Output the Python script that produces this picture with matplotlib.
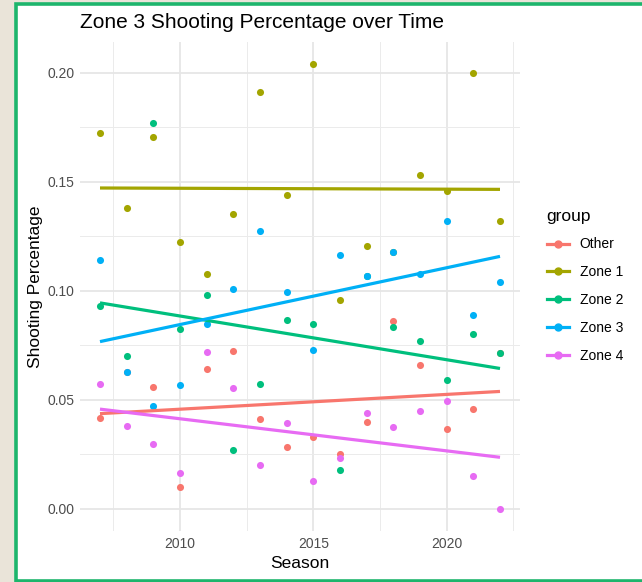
import numpy as np
import matplotlib
matplotlib.use("Agg")
import matplotlib.pyplot as plt
from matplotlib.lines import Line2D
from matplotlib.patches import Rectangle
from matplotlib.ticker import MultipleLocator, FormatStrFormatter

# season data (some points sit under other groups)
seasons = list(range(2007, 2023))
groups = ["Other", "Zone 1", "Zone 2", "Zone 3", "Zone 4"]
other = [0.0416, 0.0628, 0.0560, 0.0100, 0.0641, 0.0722, 0.0413, 0.0282,
         0.0330, 0.0250, 0.0399, 0.0860, 0.0658, 0.0364, 0.0459, 0.0714]
zone1 = [0.1722, 0.1379, 0.1704, 0.1225, 0.1078, 0.1352, 0.1911, 0.1440,
         0.2039, 0.0957, 0.1204, 0.1176, 0.1529, 0.1457, 0.2000, 0.1318]
zone2 = [0.0928, 0.0700, 0.1771, 0.0824, 0.0979, 0.0269, 0.0571, 0.0864,
         0.0847, 0.0179, 0.1066, 0.0833, 0.0769, 0.0589, 0.0800, 0.0714]
zone3 = [0.1141, 0.0628, 0.0471, 0.0569, 0.0849, 0.1009, 0.1275, 0.0995,
         0.0729, 0.1165, 0.1066, 0.1176, 0.1077, 0.1318, 0.0887, 0.1040]
zone4 = [0.0573, 0.0378, 0.0298, 0.0164, 0.0720, 0.0555, 0.0199, 0.0392,
         0.0128, 0.0233, 0.0439, 0.0375, 0.0448, 0.0493, 0.0150, 0.0000]
series = [other, zone1, zone2, zone3, zone4]
colors = ["#F8766D", "#A3A500", "#00BF7D", "#00B0F6", "#E76BF3"]

plt.rcParams["font.family"] = ["Liberation Sans", "DejaVu Sans"]

fig = plt.figure(figsize=(6.42, 5.82), dpi=100, facecolor="#EAE4D9")
# white card with green frame
fig.patches.append(Rectangle((16 / 642, 1.5 / 582), 1.0, 1 - 5.5 / 582,
                             transform=fig.transFigure, facecolor="white",
                             edgecolor="#1DB56C", linewidth=2.6, zorder=-5))

ax = fig.add_axes([80 / 642, 1 - 531 / 582, 440 / 642, 489 / 582])
ax.set_zorder(2)
ax.set_facecolor("none")

x = np.array(seasons)
for i, (vals, col) in enumerate(zip(series, colors)):
    ax.scatter(x, vals, s=26, color=col, linewidths=0, zorder=3 + i * 0.1)

# linear fit per group
for vals, col in zip(series, colors):
    b, a = np.polyfit(x, vals, 1)
    ax.plot([x.min(), x.max()], [a + b * x.min(), a + b * x.max()],
            color=col, lw=2.3, solid_capstyle="butt", zorder=5)

ax.xaxis.set_major_locator(MultipleLocator(5))
ax.xaxis.set_minor_locator(MultipleLocator(2.5))
ax.yaxis.set_major_locator(MultipleLocator(0.05))
ax.yaxis.set_minor_locator(MultipleLocator(0.025))
ax.yaxis.set_major_formatter(FormatStrFormatter("%.2f"))
ax.grid(which="major", color="#E6E6E6", lw=1.3, zorder=0)
ax.grid(which="minor", color="#EBEBEB", lw=0.7, zorder=0)
ax.set_axisbelow(True)
for s in ax.spines.values():
    s.set_visible(False)
ax.tick_params(which="both", length=0, labelsize=10, labelcolor="#4D4D4D", pad=4)

ax.set_xlabel("Season", fontsize=12.5, labelpad=4)
ax.set_ylabel("Shooting Percentage", fontsize=12.5, labelpad=3)
ax.set_title("Zone 3 Shooting Percentage over Time", fontsize=15, loc="left", pad=10)

handles = [Line2D([0], [0], color=c, lw=2.3, marker="o", markersize=5) for c in colors]
leg = fig.legend(handles, groups, title="group", loc="upper left",
                 bbox_to_anchor=(534 / 642, 1 - 196 / 582), frameon=False,
                 fontsize=10, title_fontsize=12.5, handlelength=1.6,
                 handletextpad=0.8, labelspacing=1.0, alignment="left")

fig.savefig("out.png", dpi=100, facecolor=fig.get_facecolor())
